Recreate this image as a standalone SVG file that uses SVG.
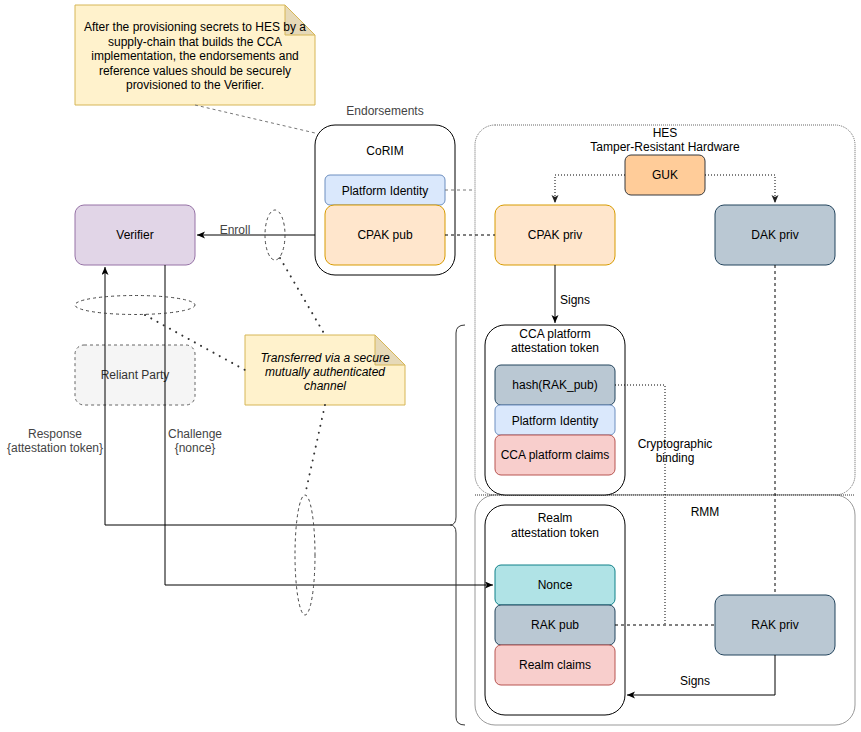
<svg xmlns="http://www.w3.org/2000/svg" width="861" height="732" viewBox="0 0 861 732">
<defs>
<marker id="arr" markerWidth="10" markerHeight="8" refX="8" refY="3.5" orient="auto" markerUnits="userSpaceOnUse">
<path d="M0,0 L8,3.5 L0,7 L2,3.5 z" fill="#000"/>
</marker>
<marker id="arrg" markerWidth="10" markerHeight="8" refX="8" refY="3.5" orient="auto" markerUnits="userSpaceOnUse">
<path d="M0,0 L8,3.5 L0,7 L2,3.5 z" fill="#222"/>
</marker>
</defs>
<style>
text{font-family:"Liberation Sans",Arial,sans-serif;font-size:12px;fill:#000;text-anchor:middle}
.g{fill:#333}
.lg{fill:#444}
.cont{fill:#fff;stroke:#000;stroke-width:1}
.line{fill:none;stroke:#000;stroke-width:1}
.dash{fill:none;stroke:#000;stroke-width:1;stroke-dasharray:3 3}
.dot{fill:none;stroke:#000;stroke-width:1;stroke-dasharray:1 2}
.bigdot{fill:none;stroke:#333;stroke-width:2;stroke-dasharray:0.1 7;stroke-linecap:round}
.gdash{fill:none;stroke:#777;stroke-width:1;stroke-dasharray:3 3}
.ell{fill:none;stroke:#444;stroke-width:1;stroke-dasharray:3 3}
.blue{fill:#dae8fc;stroke:#6c8ebf}
.orange{fill:#ffe6cc;stroke:#d79b00}
.slate{fill:#bac8d3;stroke:#23445d}
.red{fill:#f8cecc;stroke:#b85450}
.teal{fill:#b0e3e6;stroke:#0e8088}
.note{fill:#fff2cc;stroke:#d6b656}
.fold{fill:#e6d9b8;stroke:#d6b656}
</style>

<g id="hes">
<rect x="475" y="125" width="380" height="370" rx="20" fill="#fff" stroke="#666" stroke-dasharray="1 1"/>
<text x="665" y="137">HES</text>
<text x="665" y="151">Tamper-Resistant Hardware</text>
</g>
<g id="rmm">
<rect x="475" y="495" width="380" height="230" rx="20" fill="#fff" stroke="#999"/>
<text x="705" y="516">RMM</text>
</g>
<path d="M475,495 H855" fill="none" stroke="#333" stroke-dasharray="1 1"/>

<g id="note-top">
<path class="note" d="M75,5 H285 L315,35 V105 H75 Z"/>
<path class="fold" d="M285,5 V35 H315 Z"/>
<text x="195" y="31">After the provisioning secrets to HES by a</text>
<text x="195" y="46">supply-chain that builds the CCA</text>
<text x="195" y="60">implementation, the endorsements and</text>
<text x="195" y="75">reference values should be securely</text>
<text x="195" y="89">provisioned to the Verifier.</text>
</g>

<g id="corim">
<text class="lg" x="385" y="115">Endorsements</text>
<rect class="cont" x="315" y="125" width="140" height="150" rx="20"/>
<text x="385" y="155">CoRIM</text>
<rect class="blue" x="325" y="175" width="120" height="30" rx="5"/>
<text x="385" y="195">Platform Identity</text>
<rect class="orange" x="325" y="205" width="120" height="60" rx="9"/>
<text x="385" y="239">CPAK pub</text>
</g>

<g id="verifier">
<rect x="75" y="205" width="120" height="60" rx="9" fill="#e1d5e7" stroke="#9673a6"/>
<text x="135" y="239">Verifier</text>
</g>

<g id="reliant">
<rect x="75" y="345" width="120" height="60" rx="9" fill="#f5f5f5" stroke="#666" stroke-dasharray="3 3"/>
<text class="g" x="135" y="379">Reliant Party</text>
</g>

<g id="guk">
<rect x="625" y="155" width="80" height="40" rx="6" fill="#ffcc99" stroke="#36393d"/>
<text x="665" y="179">GUK</text>
</g>
<g id="cpak-priv">
<rect class="orange" x="495" y="205" width="120" height="60" rx="9"/>
<text x="555" y="239">CPAK priv</text>
</g>
<g id="dak-priv">
<rect class="slate" x="715" y="205" width="120" height="60" rx="9"/>
<text x="775" y="239">DAK priv</text>
</g>

<g id="cca-token">
<rect class="cont" x="485" y="325" width="140" height="170" rx="20"/>
<text x="555" y="338">CCA platform</text>
<text x="555" y="352">attestation token</text>
<rect class="slate" x="495" y="365" width="120" height="40" rx="6"/>
<text x="555" y="389">hash(RAK_pub)</text>
<rect class="blue" x="495" y="405" width="120" height="30" rx="5"/>
<text x="555" y="425">Platform Identity</text>
<rect class="red" x="495" y="435" width="120" height="40" rx="6"/>
<text x="555" y="459">CCA platform claims</text>
</g>

<g id="realm-token">
<rect class="cont" x="485" y="505" width="140" height="210" rx="20"/>
<text x="555" y="522">Realm</text>
<text x="555" y="537">attestation token</text>
<rect class="teal" x="495" y="565" width="120" height="40" rx="6"/>
<text x="555" y="589">Nonce</text>
<rect class="slate" x="495" y="605" width="120" height="40" rx="6"/>
<text x="555" y="629">RAK pub</text>
<rect class="red" x="495" y="645" width="120" height="40" rx="6"/>
<text x="555" y="669">Realm claims</text>
</g>

<g id="rak-priv">
<rect class="slate" x="715" y="595" width="120" height="60" rx="9"/>
<text x="775" y="629">RAK priv</text>
</g>

<g id="note-channel">
<path class="note" d="M245,335 H375 L405,365 V405 H245 Z"/>
<path class="fold" d="M375,335 V365 H405 Z"/>
<text x="325" y="362" font-style="italic">Transferred via a secure</text>
<text x="325" y="376" font-style="italic">mutually authenticated</text>
<text x="325" y="390" font-style="italic">channel</text>
</g>

<g id="connectors">
<path class="gdash" d="M195,105 L315,133"/>
<path class="line" d="M315,235 H197" marker-end="url(#arr)"/>
<path class="gdash" d="M445,190 H475"/>
<path class="dash" d="M445,235 H495"/>
<path class="dot" d="M625,175 H555 V203" marker-end="url(#arrg)"/>
<path class="dot" d="M705,175 H775 V203" marker-end="url(#arrg)"/>
<path class="line" d="M555,265 V323" marker-end="url(#arr)"/>
<path class="dot" d="M615,385 H665 V625"/>
<path class="dash" d="M775,265 V595"/>
<path class="dash" d="M615,625 H715"/>
<path class="line" d="M775,655 V695 H627" marker-end="url(#arr)"/>
<path class="line" d="M165,265 V585 H493" marker-end="url(#arr)"/>
<path class="line" d="M450,525 H105 V267" marker-end="url(#arr)"/>
<path d="M465,325 Q456,325 456,333 V517 Q456,525 450,525 Q456,525 456,533 V717 Q456,725 465,725" fill="none" stroke="#333"/>
<path class="bigdot" d="M145,315 L245,370"/>
<path class="bigdot" d="M280,258 L325,335"/>
<path class="bigdot" d="M325,405 L305,495"/>
<ellipse class="ell" cx="275" cy="235" rx="10" ry="25"/>
<ellipse class="ell" cx="135" cy="305" rx="60" ry="9.5"/>
<ellipse class="ell" cx="305" cy="555" rx="10" ry="60"/>
<text class="lg" x="235" y="234">Enroll</text>
<text x="575" y="304">Signs</text>
<text x="695" y="685">Signs</text>
<text x="675" y="448">Cryptographic</text>
<text x="675" y="462">binding</text>
<text class="lg" x="195" y="438">Challenge</text>
<text class="lg" x="195" y="452">{nonce}</text>
<text class="lg" x="55" y="438">Response</text>
<text class="lg" x="55" y="452">{attestation token}</text>
</g>
</svg>
